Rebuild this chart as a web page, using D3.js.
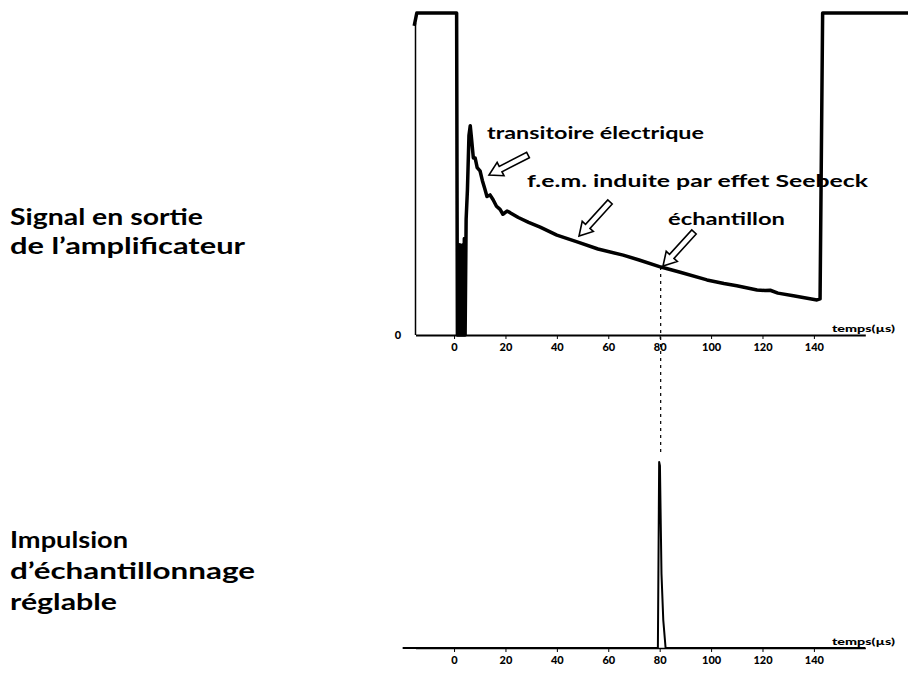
<!DOCTYPE html>
<html>
<head>
<meta charset="utf-8">
<script src="https://cdn.jsdelivr.net/npm/d3@7"></script>
<style>
  body { margin: 0; background: #fff; }
  svg { display: block; }
  text { font-family: Lato, "DejaVu Sans", sans-serif; font-weight: 700; fill: #000; }
</style>
</head>
<body>
<script>
// tick labels shared by both plots (temps en µs)
var tickValues = [0, 20, 40, 60, 80, 100, 120, 140];

// signal en sortie de l'amplificateur (arbitrary units, 100 = saturation)
var signalT = [-15.5, -14.5, 1.0, 1.3, 1.6, 1.9, 2.2, 2.5, 2.8, 3.1, 3.4, 3.7, 4.0, 4.3, 4.7, 5.2, 5.8, 6.3, 6.8, 7.5,
               8.2, 9.0, 10.1, 11.0, 12.1, 12.8, 14.0, 15.2, 16.5, 17.9, 19.0, 20.6, 21.8, 25, 29, 33.5, 40, 47.9,
               56, 65.8, 72, 80.5, 88, 98.4, 105, 110, 117.9, 121, 123, 126, 132, 141.2, 142.4, 143.4, 180];
var signalV = [96, 100, 100, 0, 25, 0, 28, 0, 27, 0, 28, 0, 30, 0, 36, 45, 62, 65, 61, 55,
               55, 52, 51, 48, 45, 43, 43.5, 42, 40, 39, 37.5, 38.5, 38, 36.5, 35, 33.5, 31, 28.9,
               26.7, 24.8, 23.3, 21.1, 19.5, 17.1, 16.0, 15.3, 14.0, 13.8, 13.9, 13.0, 12.2, 10.9, 11.2, 100, 100];

// impulsion d'échantillonnage
var pulseT = [-20, 79.3, 79.8, 80.1, 80.7, 81.4, 82.3, 160];
var pulseV = [0, 0, 100, 98, 40, 15, 0, 0];

var sampleTime = 80;

var labelsTop = ["Signal en sortie", "de l\u2019amplificateur"];
var labelsTopWidth = [193, 235];
var labelsBottom = ["Impulsion", "d\u2019\u00e9chantillonnage", "r\u00e9glable"];
var labelsBottomWidth = [118, 245, 107];

var w = 908, h = 679;

var svg = d3.select("body").append("svg")
    .attr("width", w)
    .attr("height", h);

var x = d3.scaleLinear().domain([-15, 160]).range([415.5, 865.3]);
var yTop = d3.scaleLinear().domain([0, 100]).range([335, 13]);
var yBot = d3.scaleLinear().domain([0, 100]).range([648, 462]);

var signal = signalT.map((t, i) => [t, signalV[i]]);
var pulse = pulseT.map((t, i) => [t, pulseV[i]]);

// ---- top plot ----
var axisTop = svg.append("g")
    .attr("transform", "translate(0," + yTop(0) + ")")
    .call(d3.axisBottom(x).tickValues(tickValues).tickSize(4).tickSizeOuter(0).tickPadding(4));
axisTop.select(".domain").attr("stroke-width", 2);
axisTop.selectAll("text").style("font-size", "11px").style("font-weight", 900);

svg.append("line")
    .attr("x1", x(-15)).attr("x2", x(-15))
    .attr("y1", 23).attr("y2", yTop(0))
    .attr("stroke", "#000").attr("stroke-width", 1.5);

svg.append("text").attr("x", 398).attr("y", yTop(0) + 4)
    .attr("text-anchor", "middle").style("font-size", "11px").style("font-weight", 900).text("0");

svg.append("text").attr("x", 832).attr("y", yTop(0) - 3)
    .attr("textLength", 63).attr("lengthAdjust", "spacingAndGlyphs")
    .style("font-size", "10px").style("font-weight", 900).text("temps(\u00b5s)");

var lineTop = d3.line().x(d => x(d[0])).y(d => yTop(d[1]));
svg.append("path").datum(signal)
    .attr("d", lineTop)
    .attr("fill", "none").attr("stroke", "#000")
    .attr("stroke-width", 3.5).attr("stroke-linejoin", "round");

// dashed marker linking the sample point to the pulse
var sampleV = signalV[signalT.indexOf(80.5)];
svg.append("line")
    .attr("x1", x(sampleTime) + 1).attr("x2", x(sampleTime) + 1)
    .attr("y1", yTop(sampleV)).attr("y2", yBot(100) - 10)
    .attr("stroke", "#000").attr("stroke-width", 1.2)
    .attr("stroke-dasharray", "3,4");

// ---- bottom plot ----
var axisBot = svg.append("g")
    .attr("transform", "translate(0," + yBot(0) + ")")
    .call(d3.axisBottom(x).tickValues(tickValues).tickSize(4).tickSizeOuter(0).tickPadding(4));
axisBot.select(".domain").attr("stroke-width", 1.5);
axisBot.selectAll("text").style("font-size", "11px").style("font-weight", 900);

svg.append("text").attr("x", 832).attr("y", yBot(0) - 3)
    .attr("textLength", 63).attr("lengthAdjust", "spacingAndGlyphs")
    .style("font-size", "10px").style("font-weight", 900).text("temps(\u00b5s)");

var lineBot = d3.line().x(d => x(d[0])).y(d => yBot(d[1]));
svg.append("path").datum(pulse)
    .attr("d", lineBot)
    .attr("fill", "none").attr("stroke", "#000")
    .attr("stroke-width", 2).attr("stroke-linejoin", "round");

// ---- hollow arrows ----
function arrow(x1, y1, x2, y2) {
    var dx = x2 - x1, dy = y2 - y1;
    var len = Math.sqrt(dx * dx + dy * dy);
    var ux = dx / len, uy = dy / len, nx = -uy, ny = ux;
    var sw = 3, hw = 7.5, hl = 13;
    var pts = [
        [0, -sw], [len - hl, -sw], [len - hl, -hw], [len, 0],
        [len - hl, hw], [len - hl, sw], [0, sw]
    ].map(p => [x1 + ux * p[0] + nx * p[1], y1 + uy * p[0] + ny * p[1]]);
    svg.append("polygon")
        .attr("points", pts.map(p => p.join(",")).join(" "))
        .attr("fill", "#fff").attr("stroke", "#000")
        .attr("stroke-width", 1.6).attr("stroke-linejoin", "miter");
}
arrow(528, 155, 489, 175);
arrow(610, 202, 579, 236);
arrow(694, 232, 663, 266);

// ---- annotations ----
svg.append("text").attr("x", 487).attr("y", 139)
    .attr("textLength", 217).attr("lengthAdjust", "spacingAndGlyphs")
    .style("font-size", "17px").text("transitoire \u00e9lectrique");
svg.append("text").attr("x", 527).attr("y", 187)
    .attr("textLength", 341).attr("lengthAdjust", "spacingAndGlyphs")
    .style("font-size", "17px").text("f.e.m. induite par effet Seebeck");
svg.append("text").attr("x", 668).attr("y", 225)
    .attr("textLength", 117).attr("lengthAdjust", "spacingAndGlyphs")
    .style("font-size", "17px").text("\u00e9chantillon");

// ---- side labels ----
svg.append("g").selectAll("text").data(labelsTop).enter().append("text")
    .attr("x", 10).attr("y", (d, i) => 225 + i * 29)
    .attr("textLength", (d, i) => labelsTopWidth[i]).attr("lengthAdjust", "spacingAndGlyphs")
    .style("font-size", "23px")
    .text(d => d);

svg.append("g").selectAll("text").data(labelsBottom).enter().append("text")
    .attr("x", 10).attr("y", (d, i) => 548 + i * 31)
    .attr("textLength", (d, i) => labelsBottomWidth[i]).attr("lengthAdjust", "spacingAndGlyphs")
    .style("font-size", "23px")
    .text(d => d);
</script>
</body>
</html>
